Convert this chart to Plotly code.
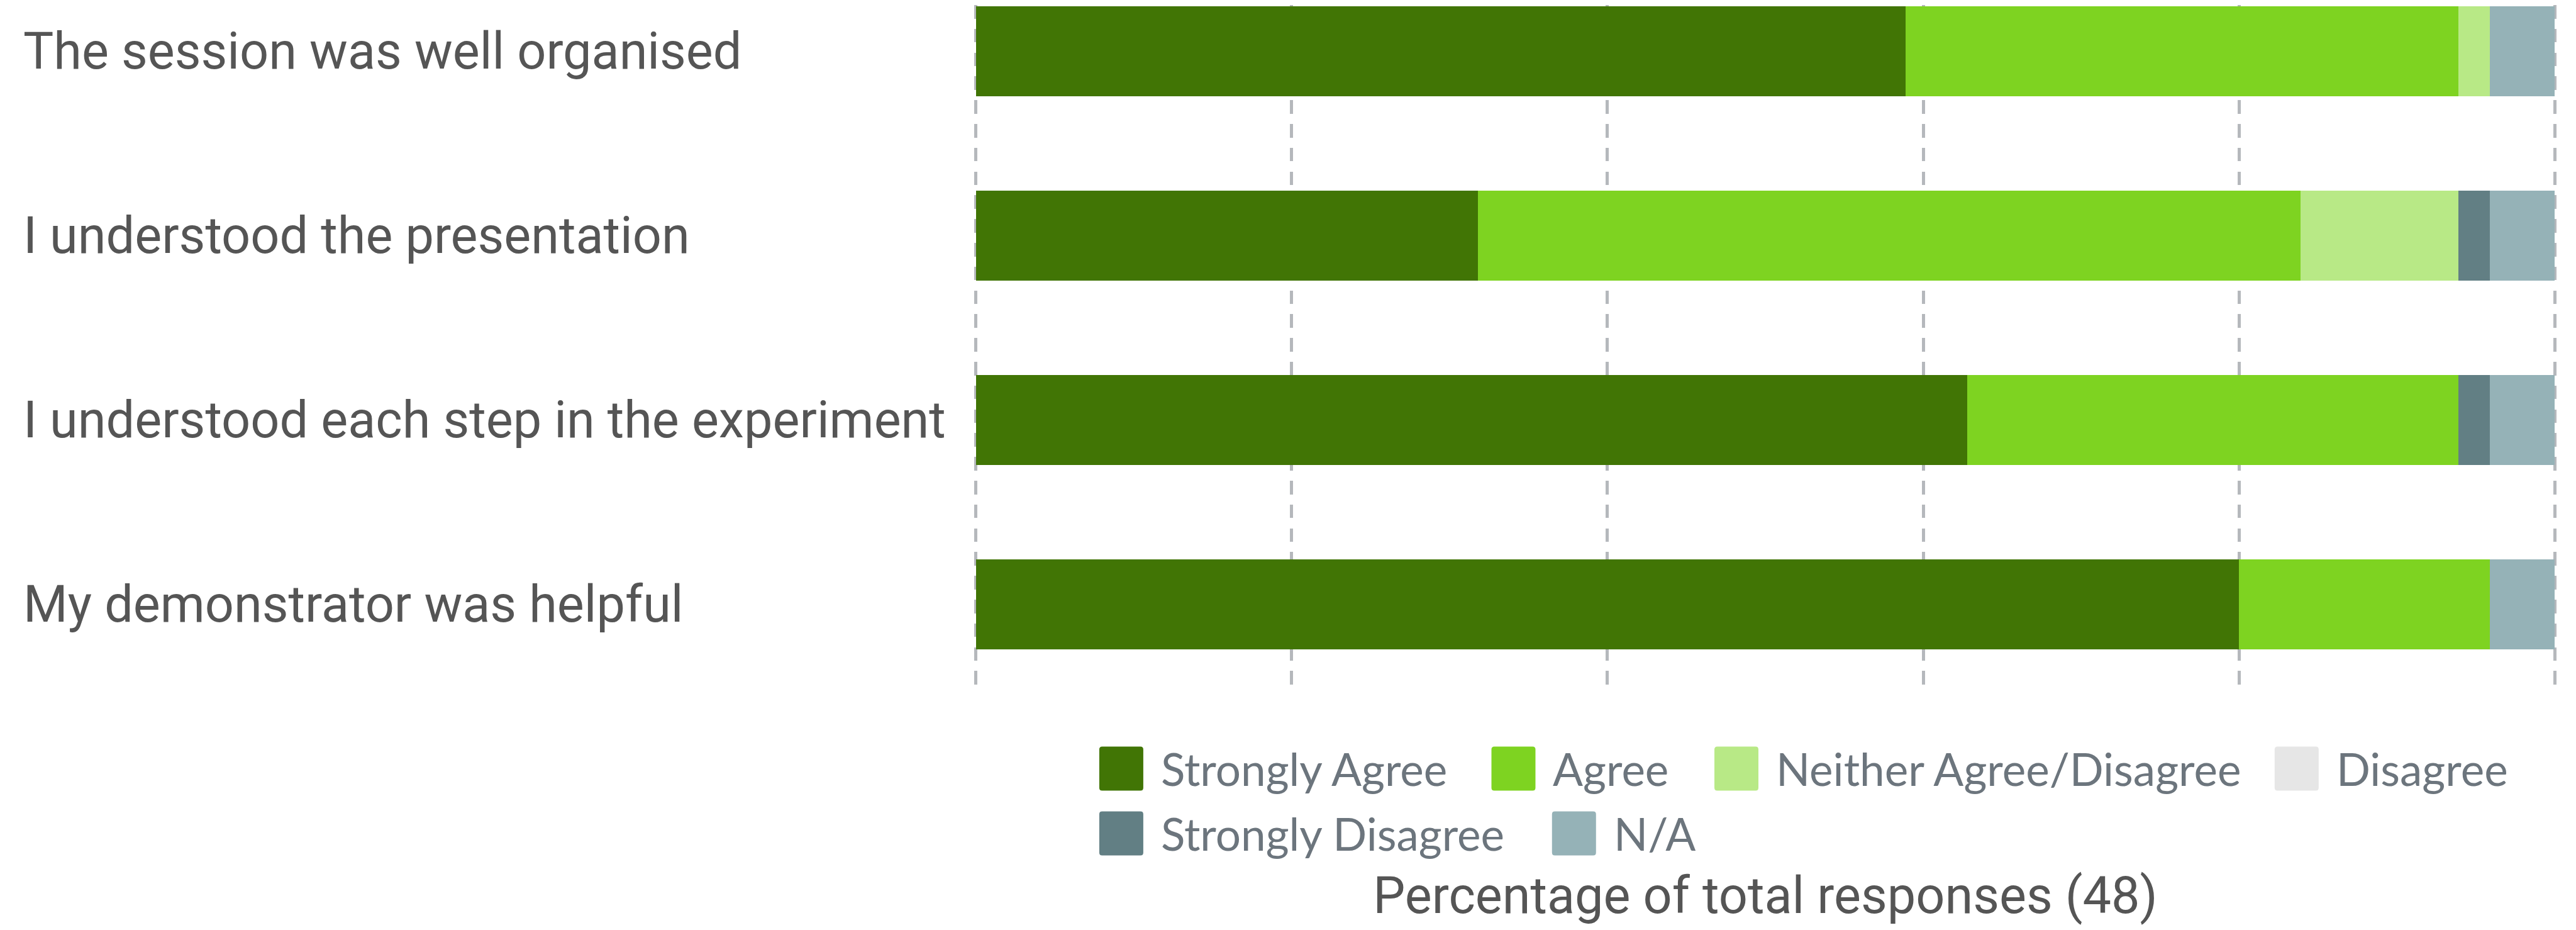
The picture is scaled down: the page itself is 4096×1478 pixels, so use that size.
import plotly.graph_objects as go

# ---- data (percent of total responses) ----
questions = [
    "The session was well organised",
    "I understood the presentation",
    "I understood each step in the experiment",
    "My demonstrator was helpful",
]
series_names = ["Strongly Agree", "Agree", "Neither Agree/Disagree",
                "Disagree", "Strongly Disagree", "N/A"]
strongly_agree = [58.9, 31.8, 62.8, 80.0]
agree = [35.0, 52.1, 31.1, 15.9]
neither = [2.0, 10.0, 0.0, 0.0]
disagree = [0.0, 0.0, 0.0, 0.0]
strongly_disagree = [0.0, 2.0, 2.0, 0.0]
not_applicable = [4.1, 4.1, 4.1, 4.1]
x_ticks = [0, 20, 40, 60, 80, 100]
axis_title = "Percentage of total responses (48)"

series_values = [strongly_agree, agree, neither, disagree,
                 strongly_disagree, not_applicable]
colors = ["#417505", "#7ED321", "#B8E986", "#E6E6E6", "#627F84", "#95B2B7"]

W, H = 4096, 1478
X0, X100 = 1543.5, 4054.5        # pixel position of 0 % and 100 %
PAD = 0.15                        # small range padding so edge gridlines show
upx = (X100 - X0) / 100.0
PL, PR = X0 - PAD * upx, X100 + PAD * upx
PT, PB = 0.0, 1094.4
pw, ph = PR - PL, PB - PT

fig = go.Figure()
for name, vals, col in zip(series_names, series_values, colors):
    fig.add_trace(go.Bar(
        y=questions, x=vals, name=name, orientation="h",
        marker=dict(color=col, line=dict(width=0)),
        showlegend=False, hoverinfo="x+name",
    ))

label_font = dict(family="Roboto, sans-serif", size=81, color="#555555")

annotations = []
for q in questions:
    annotations.append(dict(
        xref="paper", yref="y", x=(26 - PL) / pw, y=q, text=q,
        xanchor="left", yanchor="middle", showarrow=False, font=label_font,
    ))


def px_x(p):
    return (p - PL) / pw


def px_y(p):
    return (PB - p) / ph


def rounded_rect(x0, y0, x1, y1, r):
    # pixel coords -> paper-coordinate SVG path with rounded corners
    pts = [
        f"M{px_x(x0 + r)},{px_y(y0)}",
        f"L{px_x(x1 - r)},{px_y(y0)}",
        f"Q{px_x(x1)},{px_y(y0)} {px_x(x1)},{px_y(y0 + r)}",
        f"L{px_x(x1)},{px_y(y1 - r)}",
        f"Q{px_x(x1)},{px_y(y1)} {px_x(x1 - r)},{px_y(y1)}",
        f"L{px_x(x0 + r)},{px_y(y1)}",
        f"Q{px_x(x0)},{px_y(y1)} {px_x(x0)},{px_y(y1 - r)}",
        f"L{px_x(x0)},{px_y(y0 + r)}",
        f"Q{px_x(x0)},{px_y(y0)} {px_x(x0 + r)},{px_y(y0)}",
        "Z",
    ]
    return " ".join(pts)


# manual legend (large rounded swatches)
leg_swatch_x = [1739.7, 2363.4, 2718.0, 3609.0, 1739.7, 2459.7]
leg_row_y = [1214.0, 1214.0, 1214.0, 1214.0, 1317.0, 1317.0]
sw = 70.0
shapes = []
for i, name in enumerate(series_names):
    x0 = leg_swatch_x[i]
    yc = leg_row_y[i]
    shapes.append(dict(
        type="path", xref="paper", yref="paper",
        path=rounded_rect(x0, yc - sw / 2, x0 + sw, yc + sw / 2, 4.5),
        fillcolor=colors[i], line=dict(width=0), layer="above",
    ))
    annotations.append(dict(
        xref="paper", yref="paper",
        x=px_x(x0 + sw + 26), y=px_y(yc),
        text=name, xanchor="left", yanchor="middle", showarrow=False,
        font=dict(family="Lato, sans-serif", size=71, color="#6C757D"),
    ))

fig.update_layout(
    width=W, height=H,
    margin=dict(l=PL, r=W - PR, t=PT, b=H - PB, pad=0, autoexpand=False),
    paper_bgcolor="white", plot_bgcolor="white",
    barmode="stack", bargap=0.513,
    annotations=annotations, shapes=shapes,
    xaxis=dict(
        range=[-PAD, 100 + PAD], tickvals=x_ticks, showticklabels=False,
        showgrid=True, gridcolor="#B5B8BC", gridwidth=5.4,
        griddash="21.6px,16.2px", zeroline=False, showline=False,
        ticks="", fixedrange=True,
        title=dict(text=axis_title, font=label_font, standoff=292),
    ),
    yaxis=dict(
        categoryorder="array", categoryarray=questions,
        range=[3.483, -0.25], showticklabels=False, showgrid=False,
        zeroline=False, showline=False, ticks="",
    ),
    font=dict(family="Lato, sans-serif"),
)

fig.write_html("out.html")
